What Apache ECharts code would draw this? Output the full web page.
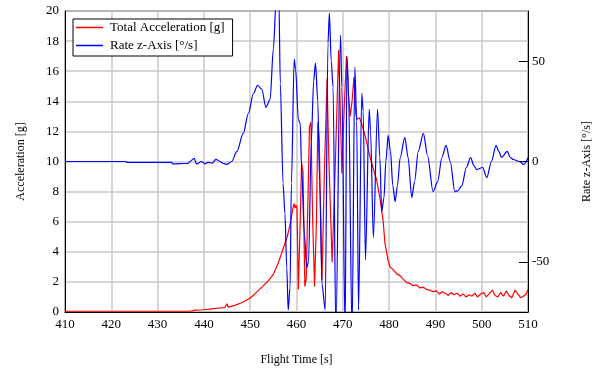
<!DOCTYPE html>
<html>
<head>
<meta charset="utf-8">
<script src="https://cdn.jsdelivr.net/npm/echarts@6/dist/echarts.min.js"></script>
<style>
html,body{margin:0;padding:0;background:#fff;}
#chart{width:602px;height:374px;}
</style>
</head>
<body>
<div id="chart"></div>
<script>
// ---- data ----
const accTime = [
  410, 420, 430, 435.5, 435.9, 436.2, 437.5, 438.0, 440, 442, 444.5, 445.0, 445.2, 446.5, 448, 449, 450, 451, 452, 453, 454, 455, 456, 457, 458, 458.6, 459.0, 459.3, 459.5, 459.7, 459.9, 460.1,
  460.4, 460.8, 461.1, 461.4, 461.8, 462.1, 462.8, 463.1, 463.5, 463.9, 464.3, 464.6, 464.9, 465.5, 466.0, 466.6, 467.0, 467.7, 468.3, 469.1, 469.4, 469.8, 470.3, 470.8, 471.2, 471.6, 472.0, 472.4, 472.8, 473.1, 473.6, 474.1, 474.9, 475.5, 475.9, 476.5, 477.3, 478.0, 478.7, 479.1, 479.8,
  480.2, 480.9, 481.6, 482.4, 483.0, 483.8, 484.5, 485.2, 485.9, 486.7, 487.4, 488.1, 488.8, 489.5, 490.2, 490.9, 491.5, 492.1, 492.8, 493.4, 494.0, 494.7, 495.3, 496.0, 496.6, 497.3, 497.9, 498.5, 499.1, 499.8, 500.4, 501.0, 501.6, 502.3, 502.9, 503.5, 504.1, 504.7, 505.3, 505.9, 506.5, 507.2, 507.8, 508.4, 509.0, 509.6, 510
];
const accValues = [
  0.05, 0.05, 0.05, 0.05, 0.15, 0.05, 0.08, 0.12, 0.15, 0.22, 0.3, 0.55, 0.32, 0.42, 0.6, 0.75, 0.93, 1.2, 1.5, 1.8, 2.1, 2.5, 3.2, 4.1, 5.0, 5.8, 6.5, 7.0, 7.2, 6.9, 7.1, 6.9,
  1.5, 6.0, 9.9, 9.3, 1.7, 2.2, 12.3, 12.6, 6.0, 1.7, 6.0, 12.6, 11.5, 2.1, 9.0, 15.5, 10.0, 3.3, 9.0, 17.4, 14.0, 9.2, 13.5, 17.0, 14.5, 13.0, 14.0, 15.6, 13.2, 12.8, 12.9, 12.5, 11.6, 10.8, 10.3, 9.6, 8.8, 7.6, 6.1, 4.6, 3.4,
  3.0, 2.8, 2.55, 2.4, 2.2, 1.95, 1.9, 1.75, 1.8, 1.6, 1.65, 1.5, 1.45, 1.35, 1.4, 1.2, 1.35, 1.25, 1.1, 1.3, 1.15, 1.25, 1.05, 1.2, 1.0, 1.15, 1.05, 1.25, 1.0, 1.2, 1.3, 1.0, 1.2, 1.45, 1.1, 1.0, 1.3, 1.05, 1.4, 1.1, 0.95, 1.45, 1.2, 0.95, 1.05, 1.2, 1.5
];
const rateTime = [
  410, 423, 423.5, 433, 433.3, 436.5, 437.0, 437.9, 438.4, 439.5, 440.2, 440.9, 441.8, 442.6, 443.5, 444.2, 444.9, 446.0, 447.1, 448.5, 449.6, 450.7, 451.6, 452.5, 453.4, 454.3, 455.0, 455.6, 455.9, 456.2, 456.5, 457.1, 457.5, 457.9, 458.2, 458.6, 458.9, 459.5, 459.8, 460.4, 460.8, 461.1, 461.7, 462.2, 462.6, 463.2, 463.7, 464.1, 464.6, 465.0, 465.5, 466.2, 466.8, 467.1, 467.5, 467.9, 468.5, 469.5, 469.8, 470.5, 470.9, 471.2, 472.0, 472.6, 473.0, 473.4, 474.1, 474.4, 474.9, 475.7, 476.0, 476.6, 477.5,
  478.0, 478.4, 478.9, 479.3, 479.8, 480.3, 480.8, 481.3, 481.8, 482.4, 483.4, 484.1, 484.9, 485.5, 486.3, 487.4, 488.3, 489.5, 490.5, 491.4, 492.3, 493.2, 494.2, 494.9, 495.7, 496.7, 497.6, 498.3, 498.9, 500.2, 501.1, 502.1, 503.1, 503.7, 504.3, 505.5, 506.2, 506.8, 508.1, 509.1, 510
];
const rateValues = [
  0, 0, -0.4, -0.4, -1.2, -1.0, 0, 1.6, -1.2, 0, -1.2, -0.4, -0.8, 1.1, 0, -1.0, -1.4, 0, 4.9, 14, 24, 34, 38, 36, 27, 31, 56, 80, 95, 80, 39, -11, -26, -53, -74, -63, -11, 51, 46, 21, 19, -3, -36, -53, -50, 10, 40, 49, 30, -10, -61, -74, 59, 74, 50, 37, -85, 63, 37, -85, 52, 40, -85, 47, 20, -74, 34, 25, -49, 26, 15, -38, 26,
  2, -25, -18, 0, 13, 5, -12, -20, -12, 2, 12, 2, -18, -10, 5, 14, 3, -15, -10, 2, 8, 0, -15, -14.5, -12, -3, 2, -2, -4, -3, -8, 0, 8, 5, 2, 5, 2, 1, 0, -1.5, 2
];
const rateTickValues = [-50, 0, 50];

// ---- chart ----
const FONT = '"Liberation Serif", "Times New Roman", serif';
const zip = (xs, ys) => xs.map((x, i) => [x, ys[i]]);

const chart = echarts.init(document.getElementById('chart'), null, { renderer: 'canvas' });
chart.setOption({
  animation: false,
  backgroundColor: '#ffffff',
  textStyle: { fontFamily: FONT, color: '#000' },
  grid: {
    left: 65, right: 74, top: 11, bottom: 62,
    show: true, borderColor: '#000', borderWidth: 1, backgroundColor: 'transparent'
  },
  legend: {
    orient: 'vertical', left: 73, top: 19,
    backgroundColor: '#fff', borderColor: '#000', borderWidth: 1, borderRadius: 0,
    padding: [2, 8, 4, 3], itemGap: 5, itemWidth: 27, itemHeight: 1.5,
    textStyle: { fontFamily: FONT, fontSize: 13, color: '#000', padding: [0, 0, 0, 2] },
    data: [
      { name: 'Total Acceleration [g]', icon: 'rect' },
      { name: 'Rate z-Axis [°/s]', icon: 'rect' }
    ]
  },
  xAxis: {
    type: 'value', min: 410, max: 510, interval: 10,
    name: 'Flight Time [s]', nameLocation: 'middle', nameGap: 42,
    nameTextStyle: { fontFamily: FONT, fontSize: 12, color: '#000' },
    axisLine: { show: true, lineStyle: { color: '#000', width: 1 } },
    axisTick: { show: false },
    axisLabel: { fontFamily: FONT, fontSize: 13, color: '#000', margin: 6 },
    splitLine: { show: true, lineStyle: { color: '#c8c8c8', width: 1.5 } }
  },
  yAxis: [
    {
      type: 'value', min: 0, max: 20, interval: 2, position: 'left',
      name: 'Acceleration [g]', nameLocation: 'middle', nameGap: 38, nameRotate: 90,
      nameTextStyle: { fontFamily: FONT, fontSize: 12, color: '#000' },
      axisLine: { show: true, lineStyle: { color: '#000', width: 1 } },
      axisTick: { show: false },
      axisLabel: { fontFamily: FONT, fontSize: 13, color: '#000', margin: 6 },
      splitLine: { show: true, lineStyle: { color: '#c8c8c8', width: 1.5 } }
    },
    {
      type: 'value', min: -75, max: 75, interval: 25, position: 'right',
      name: 'Rate z-Axis [°/s]', nameLocation: 'middle', nameGap: 53, nameRotate: 90,
      nameTextStyle: { fontFamily: FONT, fontSize: 12, color: '#000' },
      axisLine: { show: true, lineStyle: { color: '#000', width: 1 } },
      axisTick: { show: true, inside: true, length: 9, customValues: rateTickValues, lineStyle: { color: '#000', width: 1 } },
      axisLabel: { fontFamily: FONT, fontSize: 13, color: '#000', margin: 4, customValues: rateTickValues },
      splitLine: { show: false }
    }
  ],
  series: [
    {
      name: 'Total Acceleration [g]', type: 'line', yAxisIndex: 0,
      symbol: 'none', showSymbol: false, clip: true,
      lineStyle: { color: '#ff0000', width: 1.2 }, itemStyle: { color: '#ff0000' },
      data: zip(accTime, accValues)
    },
    {
      name: 'Rate z-Axis [°/s]', type: 'line', yAxisIndex: 1,
      symbol: 'none', showSymbol: false, clip: true, smooth: 0.3, smoothMonotone: 'x',
      lineStyle: { color: '#0000ff', width: 1.2 }, itemStyle: { color: '#0000ff' },
      data: zip(rateTime, rateValues)
    }
  ]
});
</script>
</body>
</html>
